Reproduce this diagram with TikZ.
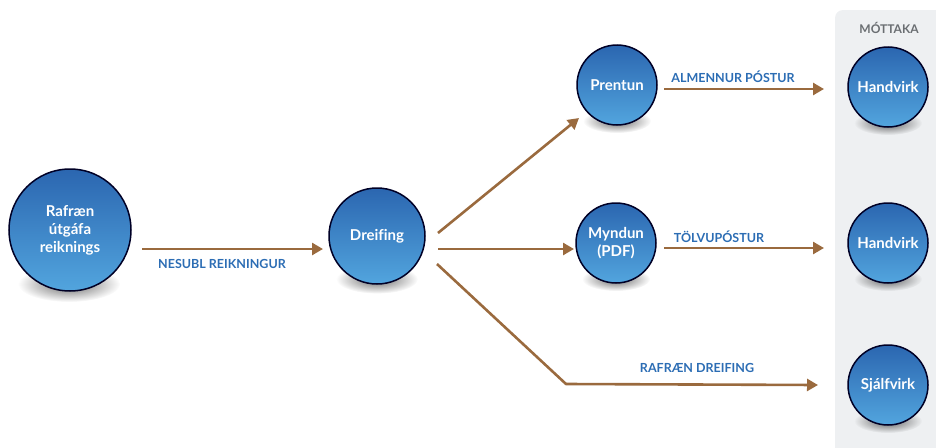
\documentclass[tikz,border=0pt]{standalone}
\usepackage{fontspec}
\setmainfont{Lato}[Ligatures=NoCommon]
\usetikzlibrary{arrows.meta,fadings}
\definecolor{arr}{HTML}{9A6A3E}
\definecolor{lbl}{HTML}{2C6DB4}
\definecolor{panel}{HTML}{EEF0F2}
\definecolor{btop}{HTML}{2B66B0}
\definecolor{bmid}{HTML}{397CC5}
\definecolor{bbot}{HTML}{52A5DE}
\definecolor{ptxt}{HTML}{6A6E72}
\tikzfading[name=softsh, inner color=transparent!0, outer color=transparent!100]
\begin{document}
\begin{tikzpicture}[x=1pt,y=-1pt,
  ball/.style={circle, draw=black!85!blue, line width=1.5pt, top color=btop, middle color=bmid, bottom color=bbot,
    text=white, font=\bfseries\fontsize{15}{18}\selectfont, align=center, inner sep=0pt, minimum size=#1},
  flow/.style={draw=arr, line width=2.6pt, -{Triangle[length=11pt,width=12pt]}},
  lab/.style={text=lbl, font=\bfseries\fontsize{12.5}{14}\selectfont, inner sep=0pt},
  shad/.style={fill=black, opacity=0.6, path fading=softsh}]
\useasboundingbox (0,0) rectangle (936,447);
% panel
\fill[panel, rounded corners=8pt] (835,10) rectangle (950,460);
\node[text=ptxt, font=\bfseries\fontsize{12}{14}\selectfont] (pt) at (889,28) {MÓTTAKA};
% shadows
\foreach \cx/\cy/\r in {69/230/60, 377/236/48, 617/85/40, 616/243/40, 888/87/40, 888/243/40, 888/385/40}{
  \fill[shad] (\cx,\cy+0.9*\r) ellipse ({0.85*\r} and {0.3*\r});
}
% circles
\node[ball=122pt] (src) at (70,230) {Rafræn\\útgáfa\\reiknings};
\node[ball=96pt] (dre) at (377,236) {Dreifing};
\node[ball=80pt] (pre) at (617,85) {Prentun};
\node[ball=80pt] (myn) at (616,243) {Myndun\\(PDF)};
\node[ball=80pt] (h1) at (888,87) {Handvirk};
\node[ball=80pt] (h2) at (888,243) {Handvirk};
\node[ball=80pt] (sj) at (888,385) {Sjálfvirk};
% connector ends
\coordinate (a1s) at (142,249);
\coordinate (a1e) at (323,249);
\coordinate (a2s) at (438,233);
\coordinate (a2e) at (579,118);
\coordinate (a3s) at (438,249);
\coordinate (a3e) at (574,249);
\coordinate (a4s) at (437,264);
\coordinate (a4c) at (566,384);
\coordinate (a4e) at (818,385);
\coordinate (a5s) at (664,89);
\coordinate (a5e) at (824,89);
\coordinate (a6s) at (664,248);
\coordinate (a6e) at (824,248);
\draw[flow] (a1s) -- (a1e);
\draw[flow] (a2s) -- (a2e);
\draw[flow] (a3s) -- (a3e);
\draw[flow, line join=round] (a4s) -- (a4c) -- (a4e);
\draw[flow] (a5s) -- (a5e);
\draw[flow] (a6s) -- (a6e);
% labels
\node[lab] (l1) at (222,264) {NESUBL REIKNINGUR};
\node[lab] (l5) at (733,77) {ALMENNUR PÓSTUR};
\node[lab] (l6) at (719,237) {TÖLVUPÓSTUR};
\node[lab] (l4) at (697,368) {RAFRÆN DREIFING};
\end{tikzpicture}
\end{document}
